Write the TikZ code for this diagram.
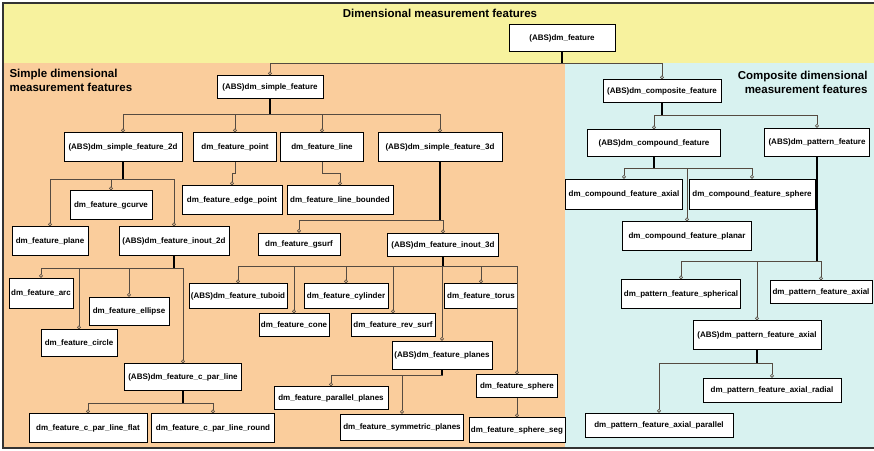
\documentclass[tikz,border=0pt]{standalone}
\usepackage{fontspec}
\setmainfont{Liberation Sans}
\usetikzlibrary{arrows.meta}
\definecolor{topyellow}{RGB}{247,242,158}
\definecolor{simplepeach}{RGB}{250,205,156}
\definecolor{compcyan}{RGB}{216,242,240}
\definecolor{linkgray}{RGB}{85,75,65}
\begin{document}
\begin{tikzpicture}[x=1pt, y=-1pt, >={Circle[open, length=3.8pt, width=3.8pt]},
    every node/.style={font=\fontsize{8}{9.5}\selectfont\bfseries},
    cls/.style={draw, fill=white, line width=0.6pt, inner xsep=1pt, inner ysep=2pt},
    link/.style={->, line width=0.6pt, draw=linkgray},
    stem/.style={line width=1.1pt, draw=black},
    area/.style={font=\fontsize{11.5}{14}\selectfont\bfseries}]
    \useasboundingbox (0,0) rectangle (874,450);
    \fill[topyellow] (3,3) rectangle (874,63);
    \fill[simplepeach] (3,63) rectangle (565,448);
    \fill[compcyan] (565,63) rectangle (874,448);
    \draw[line width=1.2pt, draw=black!80] (874,3) -- (3,3) -- (3,448) -- (874,448);
    \node[area] (ttop) at (440,13) {Dimensional measurement features};
    \node[area, align=left, anchor=north west] (tsimple) at (6,66) {Simple dimensional\\measurement features};
    \node[area, align=right, anchor=north east] (tcomp) at (871,68) {Composite dimensional\\measurement features};
    \node[cls, minimum width=106pt, minimum height=27pt] (feat) at (562,38) {(ABS)dm\_feature};
    \node[cls, minimum width=106pt, minimum height=23pt] (simple) at (270,87) {(ABS)dm\_simple\_feature};
    \node[cls, minimum width=118pt, minimum height=23pt] (composite) at (662,91) {(ABS)dm\_composite\_feature};
    \node[cls, minimum width=118pt, minimum height=29pt] (s2d) at (123,147) {(ABS)dm\_simple\_feature\_2d};
    \node[cls, minimum width=83pt, minimum height=29pt] (point) at (235,147) {dm\_feature\_point};
    \node[cls, minimum width=83pt, minimum height=29pt] (line) at (322,147) {dm\_feature\_line};
    \node[cls, minimum width=124pt, minimum height=29pt] (s3d) at (440,147) {(ABS)dm\_simple\_feature\_3d};
    \node[cls, minimum width=82pt, minimum height=29pt] (gcurve) at (111,205) {dm\_feature\_gcurve};
    \node[cls, minimum width=100pt, minimum height=29pt] (edgept) at (232,200) {dm\_feature\_edge\_point};
    \node[cls, minimum width=106pt, minimum height=29pt] (linebd) at (340,200) {dm\_feature\_line\_bounded};
    \node[cls, minimum width=76pt, minimum height=29pt] (plane) at (50,241) {dm\_feature\_plane};
    \node[cls, minimum width=110pt, minimum height=29pt] (in2d) at (174,241) {(ABS)dm\_feature\_inout\_2d};
    \node[cls, minimum width=82pt, minimum height=22pt] (gsurf) at (299,244) {dm\_feature\_gsurf};
    \node[cls, minimum width=111pt, minimum height=23pt] (in3d) at (443,245) {(ABS)dm\_feature\_inout\_3d};
    \node[cls, minimum width=64pt, minimum height=30pt] (arc) at (41,293) {dm\_feature\_arc};
    \node[cls, minimum width=80pt, minimum height=28pt] (ellipse) at (129,311) {dm\_feature\_ellipse};
    \node[cls, minimum width=76pt, minimum height=27pt] (circle) at (79,343) {dm\_feature\_circle};
    \node[cls, minimum width=117pt, minimum height=27pt] (cpar) at (183,377) {(ABS)dm\_feature\_c\_par\_line};
    \node[cls, minimum width=118pt, minimum height=29pt] (flat) at (88,428) {dm\_feature\_c\_par\_line\_flat};
    \node[cls, minimum width=123pt, minimum height=29pt] (round) at (213,428) {dm\_feature\_c\_par\_line\_round};
    \node[cls, minimum width=98pt, minimum height=25pt] (tuboid) at (238,296) {(ABS)dm\_feature\_tuboid};
    \node[cls, minimum width=84pt, minimum height=25pt] (cyl) at (346,296) {dm\_feature\_cylinder};
    \node[cls, minimum width=73pt, minimum height=25pt] (torus) at (481,296) {dm\_feature\_torus};
    \node[cls, minimum width=70pt, minimum height=23pt] (cone) at (294,325) {dm\_feature\_cone};
    \node[cls, minimum width=84pt, minimum height=23pt] (revsurf) at (393,325) {dm\_feature\_rev\_surf};
    \node[cls, minimum width=100pt, minimum height=28pt] (planes) at (442,355) {(ABS)dm\_feature\_planes};
    \node[cls, minimum width=81pt, minimum height=23pt] (sphere) at (517,386) {dm\_feature\_sphere};
    \node[cls, minimum width=114pt, minimum height=23pt] (parpl) at (331,398) {dm\_feature\_parallel\_planes};
    \node[cls, minimum width=123pt, minimum height=26pt] (sympl) at (402,427) {dm\_feature\_symmetric\_planes};
    \node[cls, minimum width=96pt, minimum height=25pt] (sphseg) at (517,430) {dm\_feature\_sphere\_seg};
    \node[cls, minimum width=133pt, minimum height=27pt] (compound) at (654,143) {(ABS)dm\_compound\_feature};
    \node[cls, minimum width=105pt, minimum height=28pt] (pattern) at (817,142) {(ABS)dm\_pattern\_feature};
    \node[cls, minimum width=117pt, minimum height=30pt] (caxial) at (624,194) {dm\_compound\_feature\_axial};
    \node[cls, minimum width=126pt, minimum height=30pt] (csphere) at (752,194) {dm\_compound\_feature\_sphere};
    \node[cls, minimum width=129pt, minimum height=29pt] (cplanar) at (687,236) {dm\_compound\_feature\_planar};
    \node[cls, minimum width=119pt, minimum height=29pt] (pspher) at (681,294) {dm\_pattern\_feature\_spherical};
    \node[cls, minimum width=102pt, minimum height=23pt] (paxial) at (821,292) {dm\_pattern\_feature\_axial};
    \node[cls, minimum width=128pt, minimum height=29pt] (pabsaxial) at (757,335) {(ABS)dm\_pattern\_feature\_axial};
    \node[cls, minimum width=138pt, minimum height=24pt] (pradial) at (772,390) {dm\_pattern\_feature\_axial\_radial};
    \node[cls, minimum width=148pt, minimum height=24pt] (pparallel) at (659,425) {dm\_pattern\_feature\_axial\_parallel};
    \foreach \kid in {simple, composite} \draw[link] (feat.south) -- ++(0,11) -| (\kid.north);
    \foreach \kid in {s2d, point, line, s3d} \draw[link] (simple.south) -- ++(0,15) -| (\kid.north);
    \foreach \kid in {plane, gcurve, in2d} \draw[link] (s2d.south) -- ++(0,17) -| (\kid.north);
    \draw[link] (point.south) -- ++(0,11) -| (edgept.north);
    \draw[link] (line.south) -- ++(0,11) -| (linebd.north);
    \foreach \kid in {gsurf, in3d} \draw[link] (s3d.south) -- ++(0,58) -| (\kid.north);
    \foreach \kid in {arc, circle, ellipse, cpar} \draw[link] (in2d.south) -- ++(0,12) -| (\kid.north);
    \foreach \kid in {flat, round} \draw[link] (cpar.south) -- ++(0,12) -| (\kid.north);
    \foreach \kid in {tuboid, cone, cyl, revsurf, planes, torus, sphere} \draw[link] (in3d.south) -- ++(0,9) -| (\kid.north);
    \foreach \kid in {parpl, sympl} \draw[link] (planes.south) -- ++(0,6) -| (\kid.north);
    \draw[link] (sphere.south) -- (sphseg.north);
    \foreach \kid in {compound, pattern} \draw[link] (composite.south) -- ++(0,12) -| (\kid.north);
    \foreach \kid in {caxial, csphere, cplanar} \draw[link] (compound.south) -- ++(0,11) -| (\kid.north);
    \foreach \kid in {pspher, paxial, pabsaxial} \draw[link] (pattern.south) -- ++(0,105) -| (\kid.north);
    \foreach \kid in {pradial, pparallel} \draw[link] (pabsaxial.south) -- ++(0,13) -| (\kid.north);
    \draw[stem] (feat.south) -- ++(0,11) (simple.south) -- ++(0,15) (s2d.south) -- ++(0,17) (s3d.south) -- ++(0,58);
    \draw[stem] (in2d.south) -- ++(0,12) (cpar.south) -- ++(0,12) (in3d.south) -- ++(0,9) (planes.south) -- ++(0,6);
    \draw[stem] (composite.south) -- ++(0,12) (compound.south) -- ++(0,11) (pattern.south) -- ++(0,105) (pabsaxial.south) -- ++(0,13);
\end{tikzpicture}
\end{document}
